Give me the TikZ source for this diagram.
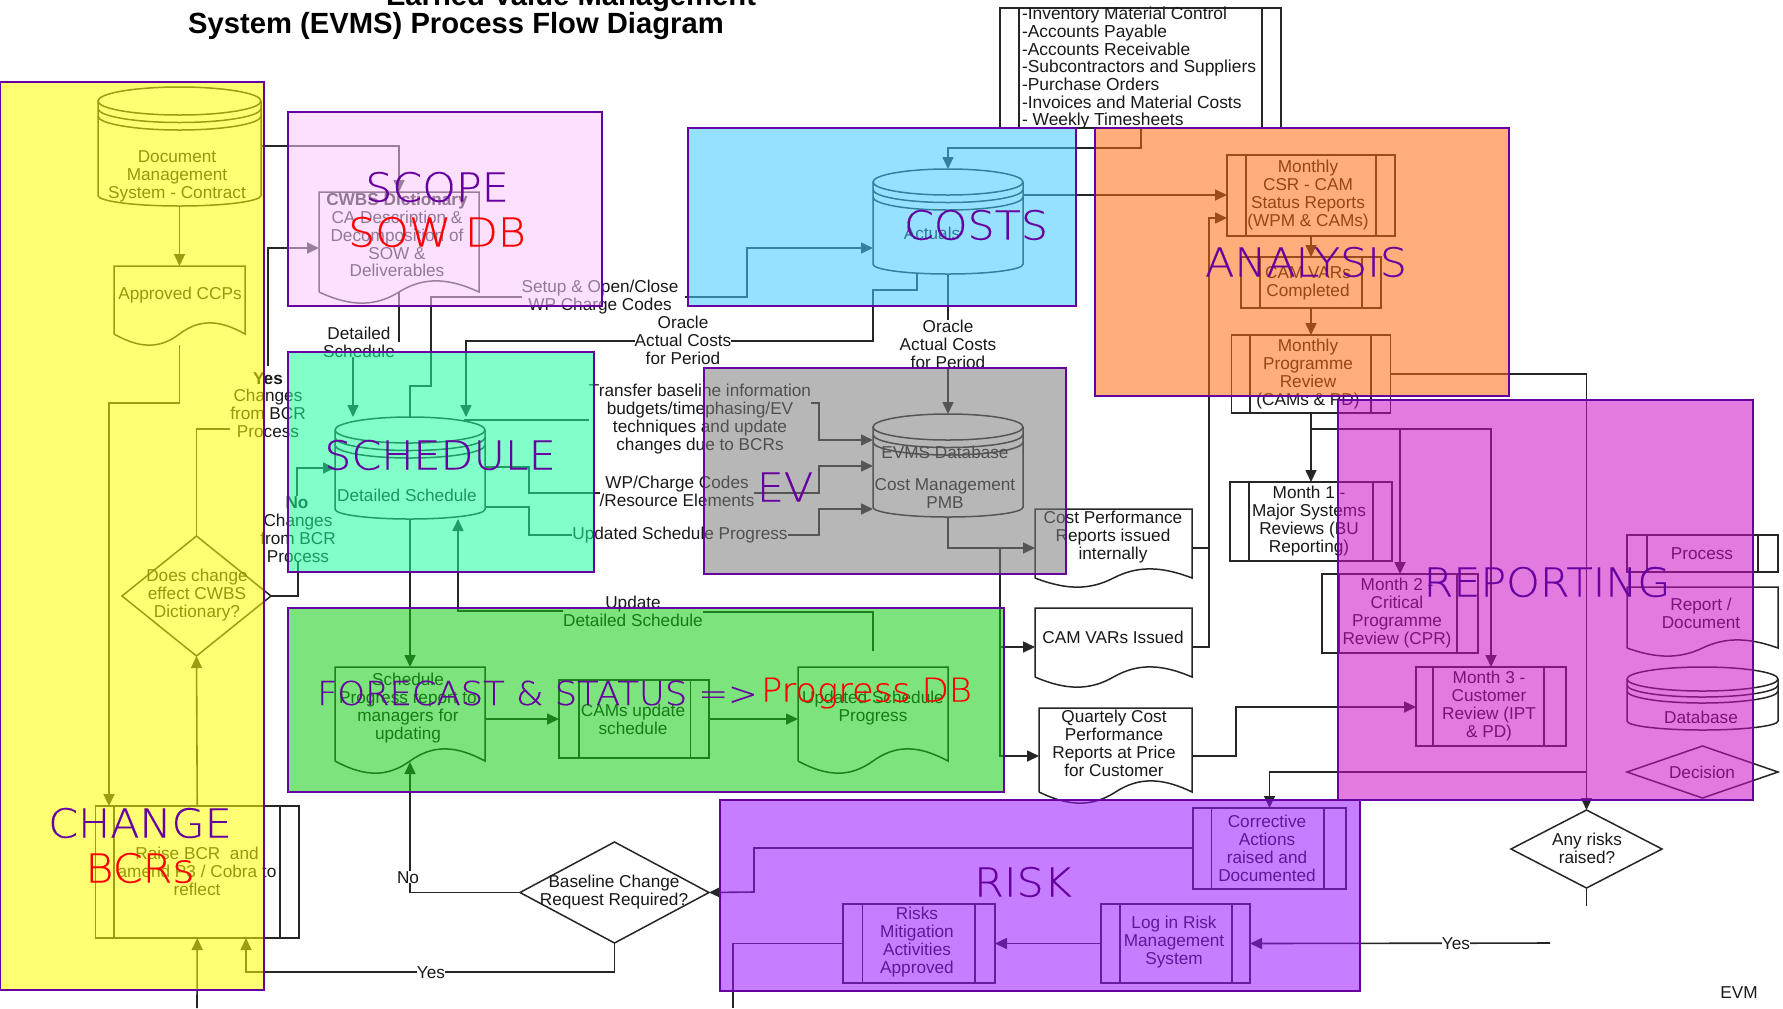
\documentclass[tikz,border=0pt]{standalone}
\usepackage{fontspec}
\setmainfont{Liberation Sans}
\newfontfamily\paneltitlefont[FakeStretch=1.07,FakeBold=0.25]{DejaVu Sans ExtraLight}
\usetikzlibrary{arrows.meta}
\definecolor{pborder}{RGB}{102,0,160}
\definecolor{pYellow}{RGB}{255,255,0}
\definecolor{pPink}{RGB}{250,200,252}
\definecolor{pAqua}{RGB}{64,202,255}
\definecolor{pOrange}{RGB}{255,106,13}
\definecolor{pMint}{RGB}{24,255,155}
\definecolor{pGray}{RGB}{125,125,125}
\definecolor{pGreen}{RGB}{20,204,20}
\definecolor{pMagenta}{RGB}{204,13,199}
\definecolor{pPurple}{RGB}{153,20,255}
\tikzset{
  x=0.5pt, y=-0.5pt,
  anchorbox/.style={rectangle, inner sep=0pt, outer sep=0pt},
  shp/.style={draw=black!85, line width=0.75pt, line join=miter},
  tx/.style={inner sep=0pt, outer sep=0pt, yshift=-0.6pt, align=center, text=black!90, font=\fontsize{8.6}{8.9}\selectfont},
  plain/.style={draw=black!85, line width=0.8pt},
  conn/.style={plain, -{Triangle[length=6pt,width=5.5pt]}},
  panel/.style={anchorbox, draw=pborder, line width=1.2pt, draw opacity=1, fill opacity=.55},
  ptitle/.style={inner sep=0pt, outer sep=0pt, text=pborder, font=\paneltitlefont\fontsize{20}{24}\selectfont},
  pred/.style={ptitle, text=red},
  ptitleS/.style={ptitle, font=\paneltitlefont\fontsize{16.5}{20}\selectfont},
}
\newcommand\boxat[6][]{\node[anchorbox,#1,minimum width={(#5-#3)*0.5pt},minimum height={(#6-#4)*0.5pt}] (#2) at ({(#3+#5)/2},{(#4+#6)/2}) {};}
% process: name x1 y1 x2 y2 i1 i2
\newcommand\procn[7]{\boxat[shp]{#1}{#2}{#3}{#4}{#5}
  \draw[shp] (#6,#3) -- (#6,#5) (#7,#3) -- (#7,#5);}
% document: name x1 y1 x2 yr low
\newcommand\docn[6]{\boxat{#1}{#2}{#3}{#4}{#6}
  \pgfmathsetmacro\dW{#4-#2}\pgfmathsetmacro\dH{(#6-#5)*1.35}
  \draw[shp] (#2,#5) -- (#2,#3) -- (#4,#3) -- (#4,#5)
    .. controls ({#2+.8*\dW},{#5-\dH}) and ({#2+.65*\dW},{#5-\dH}) .. ({#2+.5*\dW},#5)
    .. controls ({#2+.35*\dW},{#5+\dH}) and ({#2+.2*\dW},{#5+\dH}) .. (#2,#5);}
% database: name x1 y1 x2 y2 ry gap
\newcommand\dbn[7]{\boxat{#1}{#2}{#3}{#4}{#5}
  \pgfmathsetmacro\cA{(#4-#2)/4}\pgfmathsetmacro\cB{#6/2}\pgfmathsetmacro\cC{#6*.375}
  \pgfmathsetmacro\cY{#3+#6}\pgfmathsetmacro\cX{(#2+#4)/2}\pgfmathsetmacro\cZ{#5-.75*#6}
  \pgfmathsetmacro\cP{\cY+#7}\pgfmathsetmacro\cQ{\cY+2*#7}
  \draw[shp] (\cX,\cY) ellipse [x radius=\cA pt, y radius=\cB pt];
  \draw[shp] (#2,\cY) -- (#2,\cZ) arc[start angle=180,end angle=360,x radius=\cA pt,y radius=\cC pt] -- (#4,\cY);
  \draw[shp] (#2,\cP) arc[start angle=180,end angle=360,x radius=\cA pt,y radius=\cB pt];
  \draw[shp] (#2,\cQ) arc[start angle=180,end angle=360,x radius=\cA pt,y radius=\cB pt];}
% decision: name x1 y1 x2 y2
\newcommand\decn[5]{\boxat{#1}{#2}{#3}{#4}{#5}
  \draw[shp] (#1.north) -- (#1.east) -- (#1.south) -- (#1.west) -- cycle;}
\newcommand\tn[4]{\node[tx] (#1) at (#2,#3) {#4};}
\newcommand\pn[6]{\boxat[panel,fill=#6]{#1}{#2}{#3}{#4}{#5}}
\begin{document}
\begin{tikzpicture}
\useasboundingbox (0,0) rectangle (1783,1008);
\clip (0,0) rectangle (1783,1008);
\fill[white] (0,0) rectangle (1783,1008);

% ----- headings
\node[tx,font=\bfseries\fontsize{14.6}{16}\selectfont,text=black] (head1) at (571,-3) {Earned Value Management};
\node[tx,font=\bfseries\fontsize{14.6}{16}\selectfont,text=black] (head2) at (456,25) {System (EVMS) Process Flow Diagram};

% ----- shapes
\dbn{dms}{98}{87}{261}{206}{14}{7.5}
\tn{dmsT}{177}{175}{Document\\Management\\System - Contract}
\docn{ccp}{114}{266}{245}{334}{345}
\tn{ccpT}{180}{294}{Approved CCPs}
\docn{cwbs}{319}{192}{479}{292}{303}
\tn{cwbsT}{397}{234}{\textbf{CWBS Dictionary}\\CA Description \&\\Decomposition of\\SOW \&\\Deliverables}
\decn{diaCwbs}{122}{536}{271}{656}
\tn{diaCwbsT}{197}{594}{Does change\\effect CWBS\\Dictionary?}
\procn{raise}{95.5}{806}{299}{938}{114}{280}
\tn{raiseT}{197}{870}{Raise BCR\ \ and\\amend P3 / Cobra to\\reflect}
\dbn{sched}{335}{417}{485}{519}{13}{7.5}
\tn{schedT}{407}{494}{Detailed Schedule}
\dbn{actuals}{873}{169}{1023}{274}{13}{7.5}
\tn{actualsT}{932}{232}{Actuals}
\dbn{evms}{873}{414}{1023}{517}{13}{7.5}
\tn{evmsT}{945}{476}{EVMS Database\\[7pt]Cost Management\\PMB}
\procn{inv}{1000}{8}{1281}{128}{1019}{1262}
\node[tx,align=left,anchor=west,font=\fontsize{8.7}{8.85}\selectfont] (invT) at (1022,67) {-Inventory Material Control\\-Accounts Payable\\-Accounts Receivable\\-Subcontractors and Suppliers\\-Purchase Orders\\-Invoices and Material Costs\\- Weekly Timesheets};
\procn{csr}{1227}{155}{1395}{236}{1246}{1376}
\tn{csrT}{1308}{194}{Monthly\\CSR - CAM\\Status Reports\\(WPM \& CAMs)}
\procn{camv}{1241}{257}{1381}{308}{1260}{1362}
\tn{camvT}{1308}{282}{CAM VARs\\Completed}
\procn{pr}{1231.5}{335}{1390.5}{413}{1250}{1371}
\tn{prT}{1308}{373}{Monthly\\Programme\\Review\\(CAMs \& PD)}
\procn{mA}{1230}{482}{1392}{561}{1249}{1373}
\tn{mAT}{1309}{520}{Month 1 -\\Major Systems\\Reviews (BU\\Reporting)}
\procn{mB}{1322}{574}{1478}{653}{1339}{1457}
\tn{mBT}{1397}{612}{Month 2 -\\Critical\\Programme\\Review (CPR)}
\procn{mC}{1416}{667}{1566}{746}{1433}{1544}
\tn{mCT}{1489}{705}{Month 3 -\\Customer\\Review (IPT\\\& PD)}
\decn{diaRisk}{1511}{810}{1662}{888}
\tn{diaRiskT}{1587}{847}{Any risks\\raised?}
\procn{corr}{1193}{808}{1346}{889}{1211.5}{1324}
\tn{corrT}{1267}{847}{Corrective\\Actions\\raised and\\Documented}
\procn{log}{1101}{904}{1250}{983}{1120}{1232}
\tn{logT}{1174}{941}{Log in Risk\\Management\\System}
\procn{risks}{843}{904}{995}{983}{862.5}{975}
\tn{risksT}{917}{941}{Risks\\Mitigation\\Activities\\Approved}
\docn{cost}{1035}{509}{1192}{578}{587}
\tn{costT}{1113}{536}{Cost Performance\\Reports issued\\internally}
\docn{cam}{1035}{608}{1192}{677}{687}
\tn{camT}{1113}{636}{CAM VARs Issued}
\docn{quart}{1039}{708}{1192}{792}{803}
\tn{quartT}{1114}{742}{Quartely Cost\\Performance\\Reports at Price\\for Customer}
\docn{schedprog}{335}{667}{485}{761}{773}
\tn{schedprogT}{408}{707}{Schedule\\Progress report to\\managers for\\updating}
\procn{cams}{559}{680}{709}{758}{579}{690.6}
\tn{camsT}{633}{718}{CAMs update\\schedule}
\docn{upd}{798}{667}{948}{761}{773}
\tn{updT}{873}{707}{Updated Schedule\\Progress}
\decn{diaBase}{520}{842}{709}{943}
\tn{diaBaseT}{614}{891}{Baseline Change\\Request Required?}
% legend
\procn{legP}{1627}{535}{1778}{572}{1647}{1758}
\tn{legPT}{1702}{552}{Process}
\docn{legR}{1627}{587}{1778}{648}{656}
\tn{legRT}{1701}{612}{Report /\\Document}
\dbn{legD}{1627}{667}{1778}{730}{12}{6}
\tn{legDT}{1701}{716}{Database}
\decn{legQ}{1627}{746}{1778}{798}
\tn{legQT}{1702}{771}{Decision}
\tn{evmT}{1739}{991}{EVM}

% ----- connector labels
\tn{lblYes}{268}{377}{\textbf{Yes}}
\tn{lblChA}{268}{412}{Changes\\from BCR\\Process}
\tn{lblNo}{297}{501}{\textbf{No}}
\tn{lblChB}{298}{537}{Changes\\from BCR\\Process}
\tn{lblDS}{359}{341}{Detailed\\Schedule}
\tn{lblSetup}{600}{296}{Setup \& Open/Close\\WP Charge Codes}
\tn{lblOrA}{683}{339}{Oracle\\Actual Costs\\for Period}
\tn{lblOrB}{948}{343}{Oracle\\Actual Costs\\for Period}
\tn{lblTr}{700}{418}{Transfer baseline information\\budgets/timephasing/EV\\techniques and update\\changes due to BCRs}
\tn{lblWP}{677}{490}{WP/Charge Codes\\/Resource Elements}
\tn{lblUSP}{680}{534}{Updated Schedule Progress}
\tn{lblUpd}{633}{610}{Update\\Detailed Schedule}
\tn{lblNoB}{408}{876}{No}
\tn{lblYesB}{431}{971}{Yes}
\tn{lblYesC}{1456}{942}{Yes}

% ----- free ends and junctions
\coordinate (bcrIn) at (197,1008);
\coordinate (dsEnd) at (399,342);
\coordinate (riskOut) at (1586.5,906);
\coordinate (yesIn) at (1550,943);
\coordinate (risksOut) at (733,1008);
\coordinate (jEvmsA) at (1000,548);
\coordinate (jEvmsB) at (1000,647);
\coordinate (jPrA) at (1311,429);
\coordinate (jPrB) at (1400,429);
\coordinate (jRisk) at (1586.5,772);

% ----- connectors
\draw[conn] (dms.east |- 0,146) -| (399,0 |- cwbs.north);
\draw[conn] (dms.south) -- (ccp.north);
\draw[conn] (179.5,0 |- ccp.south) |- (109,403) -- (109,0 |- raise.north);
\draw[conn] ([yshift=3pt]lblYes.north) |- (cwbs.west |- 0,248);
\draw[plain] (lblChA.west |- 0,429) -| (diaCwbs.north);
\draw[conn] (raise.north) -- (diaCwbs.south);
\draw[conn] (bcrIn) -- (raise.south);
\draw[plain] (diaCwbs.east) -| (lblChB.south);
\draw[conn] (lblNo.north) |- (sched.west |- 0,468);
\draw[plain] ([yshift=5.5pt]cwbs.south) -- (dsEnd);
\draw[conn] (353,0 |- lblDS.south) -- (353,0 |- sched.north);
\draw[plain] (lblSetup.west |- 0,297) -| (431,386) -| (410,0 |- sched.north);
\draw[conn] ([xshift=3.5pt]lblSetup.east |- 0,297) -| (747,248) -- (actuals.west |- 0,248);
\draw[plain] (917,0 |- actuals.south) -- (917,290) -| (873,341) -- (lblOrA.east |- 0,341);
\draw[conn] (lblOrA.west |- 0,341) -| (466,0 |- sched.north);
\draw[plain] ([xshift=27pt,yshift=-1.5pt]sched.north) -- (lblTr.west |- 0,420);
\draw[conn] (lblTr.east |- 0,403) -| (819,440) -- (evms.west |- 0,440);
\draw[plain] (sched.east |- 0,467) -| (529,493) -- (lblWP.west |- 0,493);
\draw[conn] (lblWP.east |- 0,493) -| (819,466) -- (evms.west |- 0,466);
\draw[plain] (sched.east |- 0,507) -| (529,535) -- (lblUSP.west |- 0,535);
\draw[conn] (lblUSP.east |- 0,535) -| (819,509) -- (evms.west |- 0,509);
\draw[conn] (sched.south) -- (schedprog.north);
\draw[plain] ([yshift=8pt]upd.north) |- (lblUpd.east |- 0,612);
\draw[conn] (lblUpd.west |- 0,611) -| (458,0 |- sched.south);
\draw[plain] (diaBase.west) -| (410,0 |- lblNoB.south);
\draw[conn] (410,0 |- lblNoB.north) -- ([yshift=5.5pt]schedprog.south);
\draw[plain] (diaBase.south) |- (lblYesB.east);
\draw[conn] (lblYesB.west) -| (246,0 |- raise.south);
\draw[conn] (corr.west |- 0,848) -| (754,892) -- (diaBase.east);
\draw[conn] (evms.south) |- (cost.west |- 0,548);
\draw[conn] (jEvmsA) |- (quart.west |- 0,756);
\draw[conn] (jEvmsB) -- (cam.west |- 0,647);
\draw[plain] (cost.east |- 0,548) -- (1209,548);
\draw[conn] (cam.east |- 0,647) -| (1209,218) -- (csr.west |- 0,218);
\draw[conn] (quart.east |- 0,756) -| (1236,707) -- (mC.west |- 0,707);
\draw[conn] (1141,0 |- inv.south) |- (948,148) -- (actuals.north);
\draw[conn] (actuals.east |- 0,195) -- (csr.west |- 0,195);
\draw[plain] (actuals.south) -- (lblOrB.north);
\draw[conn] (lblOrB.south) -- (evms.north);
\draw[conn] (csr.south) -- (camv.north);
\draw[conn] (camv.south) -- (pr.north);
\draw[conn] (pr.east |- 0,374) -| (diaRisk.north);
\draw[conn] (pr.south) -- (mA.north);
\draw[conn] (jPrA) -| (mC.north);
\draw[conn] (jPrB) -- (mB.north);
\draw[conn] (jRisk) -| (corr.north);
\draw[plain] (diaRisk.south) -- (riskOut);
\draw[plain] (yesIn) -- (lblYesC.east);
\draw[conn] (lblYesC.west) -- (log.east);
\draw[conn] (log.west) -- (risks.east);
\draw[plain] (risks.west) -| (risksOut);
\draw[conn] (schedprog.east |- 0,719) -- (cams.west |- 0,719);
\draw[conn] (cams.east) -- (upd.west |- 0,719);

% ----- translucent panels over the diagram
\pn{pChange}{0}{82}{264}{990}{pYellow}
\pn{pScope}{288}{112}{602}{306}{pPink}
\pn{pCosts}{688}{128}{1076}{306}{pAqua}
\pn{pAnalysis}{1095}{128}{1509}{396}{pOrange}
\pn{pSchedule}{288}{352}{594}{572}{pMint}
\pn{pEV}{704}{368}{1066}{574}{pGray}
\pn{pForecast}{288}{608}{1004}{792}{pGreen}
\pn{pReporting}{1338}{400}{1753}{800}{pMagenta}
\pn{pRisk}{720}{800}{1360}{991}{pPurple}

% ----- panel titles
\node[ptitle] (tScope) at (437,187) {SCOPE};
\node[pred] (tSow) at (437,232) {SOW DB};
\node[ptitle] (tCosts) at (976,225) {COSTS};
\node[ptitle] (tAnalysis) at (1306,262) {ANALYSIS};
\node[ptitle] (tSchedule) at (440,455) {SCHEDULE};
\node[ptitle] (tEV) at (785,487) {EV};
\node[ptitle] (tReporting) at (1547,582) {REPORTING};
\node[ptitleS,anchor=west] (tForecast) at (317,693) {FORECAST \& STATUS =>};
\node[ptitleS,text=red,anchor=west] (tProgress) at (761,693) {Progress DB};
\node[ptitle] (tChange) at (140,823) {CHANGE};
\node[pred] (tBcr) at (140,868) {BCRs};
\node[ptitle] (tRisk) at (1023,882) {RISK};
\end{tikzpicture}
\end{document}
